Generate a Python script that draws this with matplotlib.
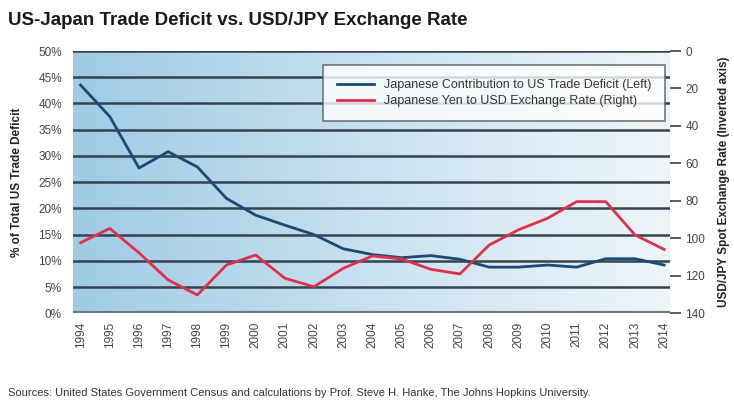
import numpy as np
import matplotlib.pyplot as plt
from matplotlib.colors import LinearSegmentedColormap

plt.rcParams['font.family'] = ['Liberation Sans', 'DejaVu Sans']

years = list(range(1994, 2015))
deficit_pct = [43.5, 37.5, 27.7, 30.8, 27.9, 21.9, 18.7, 16.8, 15.0, 12.3, 11.2, 10.6,
               11.0, 10.3, 8.8, 8.8, 9.2, 8.8, 10.4, 10.4, 9.2]
usd_jpy = [102.3, 94.7, 107.7, 122.2, 130.2, 114.2, 108.9, 121.3, 125.8, 116.0, 109.4,
           111.0, 116.5, 119.0, 103.6, 95.5, 89.3, 80.4, 80.4, 98.2, 105.9]

left_ticks = list(range(0, 55, 5))
right_ticks = list(range(0, 160, 20))

fig = plt.figure(figsize=(7.34, 4.03), dpi=100)
ax = fig.add_axes([0.0995, 0.2226, 0.8133, 0.6508])

# background gradient, blue on the left fading to near white
cmap = LinearSegmentedColormap.from_list("bg", ["#9fcbe5", "#c9e2f0", "#eef5f9"])
grad = np.linspace(0, 1, 256).reshape(1, -1)
ax.imshow(grad, cmap=cmap, aspect="auto", extent=[0, 1, 0, 1],
          transform=ax.transAxes, zorder=0)

ax.set_xlim(1993.74, 2014.2)
ax.set_ylim(0, 50)
ax.set_yticks(left_ticks)
ax.set_yticklabels([f"{t}%" for t in left_ticks])
ax.set_xticks(years)
ax.set_xticklabels([str(y) for y in years], rotation=90)
for t in left_ticks:
    ax.axhline(t, color="#34434f", lw=1.8, zorder=1)
ax.axhline(0, color="#6d7880", lw=3, zorder=1)

for s in ax.spines.values():
    s.set_visible(False)
ax.tick_params(axis="y", length=0, pad=8, labelsize=8.5, labelcolor="#444444")
ax.tick_params(axis="x", length=0, pad=6, labelsize=8.5, labelcolor="#444444")
ax.set_ylabel("% of Total US Trade Deficit", fontsize=8.5, fontweight="bold",
              color="#222222", va="center")
ax.yaxis.set_label_coords(-0.094, 0.5)

l1, = ax.plot(years, deficit_pct, color="#1d4a72", lw=2, zorder=3,
              label="Japanese Contribution to US Trade Deficit (Left)")

ax2 = ax.twinx()
ax2.set_ylim(140, 0)
ax2.set_yticks(right_ticks)
for s in ax2.spines.values():
    s.set_visible(False)
ax2.tick_params(axis="y", length=8, width=1.2, color="#34434f", pad=3,
                labelsize=8.5, labelcolor="#444444")
ax2.set_ylabel("USD/JPY Spot Exchange Rate (Inverted axis)", fontsize=8.5,
               fontweight="bold", color="#222222", va="center", rotation=90)
ax2.yaxis.set_label_coords(1.09, 0.5)
l2, = ax2.plot(years, usd_jpy, color="#e0304b", lw=2, zorder=3,
               label="Japanese Yen to USD Exchange Rate (Right)")

leg = ax2.legend(handles=[l1, l2], loc="upper right", bbox_to_anchor=(0.992, 0.945),
                 fontsize=9, frameon=True, fancybox=False, borderpad=1.1,
                 handlelength=3, labelspacing=0.3, borderaxespad=0)
leg.get_frame().set_edgecolor("#555555")
leg.get_frame().set_linewidth(1.2)
for t in leg.get_texts():
    t.set_color("#333333")

fig.text(0.011, 0.95, "US-Japan Trade Deficit vs. USD/JPY Exchange Rate",
         fontsize=13.5, fontweight="bold", color="#1a1a1a", va="center")
fig.text(0.011, 0.025, "Sources: United States Government Census and calculations by Prof. "
         "Steve H. Hanke, The Johns Hopkins University.", fontsize=8, color="#333333",
         va="center")

fig.savefig("out.png", dpi=100)
